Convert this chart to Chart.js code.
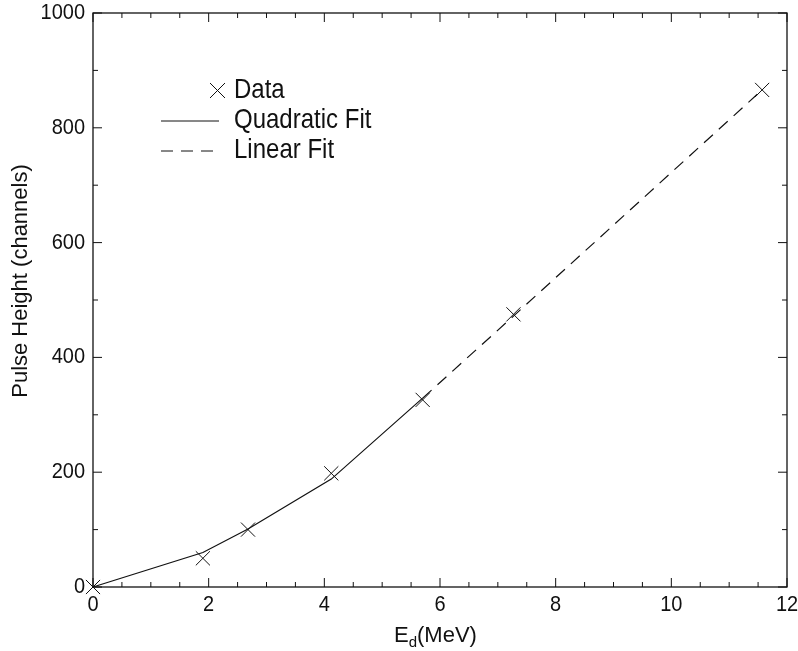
<!DOCTYPE html>
<html>
<head>
<meta charset="utf-8">
<script src="https://cdn.jsdelivr.net/npm/chart.js@4"></script>
<style>
    html, body { margin: 0; padding: 0; background: #fff; }
    #wrap { width: 798px; height: 651px; }
</style>
</head>
<body>
<div id="wrap"><canvas id="chart" width="798" height="651"></canvas></div>
<script>
// values
const dataX = [0, 1.9, 2.68, 4.12, 5.7, 7.27, 11.57];
const dataY = [0, 50, 100, 198, 326, 475, 866];
const quadX = [0, 1.9, 2.68, 4.12, 5.7];
const quadY = [0, 60, 101, 188, 329];
const linX = [5.7, 7.27, 11.57];
const linY = [329, 472, 866];
const xTicks = [0, 2, 4, 6, 8, 10, 12];
const yTicks = [0, 200, 400, 600, 800, 1000];

const FONT = "'Liberation Sans', Arial, sans-serif";
const INK = "#111";

function pairs(xs, ys) {
    return xs.map((x, i) => ({ x: x, y: ys[i] }));
}

// text slightly taller than wide, like the original
function tallText(ctx, txt, x, y, sy) {
    ctx.save();
    ctx.translate(x, y);
    ctx.scale(1, sy);
    ctx.fillText(txt, 0, 0);
    ctx.restore();
}

// box, inward ticks on all four sides, tick labels, axis titles, legend
const framePlugin = {
    id: "frame",
    afterDraw(chart) {
        const ctx = chart.ctx;
        const a = chart.chartArea;
        const xs = chart.scales.x;
        const ys = chart.scales.y;
        ctx.save();
        ctx.strokeStyle = INK;
        ctx.lineWidth = 1.3;
        ctx.strokeRect(a.left, a.top, a.right - a.left, a.bottom - a.top);

        ctx.lineWidth = 1;
        ctx.beginPath();
        for (let v = xs.min; v <= xs.max + 1e-9; v += 0.5) {
            const px = xs.getPixelForValue(v);
            const len = Math.abs(v % 2) < 1e-9 ? 9 : 5;
            ctx.moveTo(px, a.bottom); ctx.lineTo(px, a.bottom - len);
            ctx.moveTo(px, a.top); ctx.lineTo(px, a.top + len);
        }
        for (let v = ys.min; v <= ys.max + 1e-9; v += 100) {
            const py = ys.getPixelForValue(v);
            const len = Math.abs(v % 200) < 1e-9 ? 9 : 5;
            ctx.moveTo(a.left, py); ctx.lineTo(a.left + len, py);
            ctx.moveTo(a.right, py); ctx.lineTo(a.right - len, py);
        }
        ctx.stroke();

        // tick labels
        ctx.fillStyle = INK;
        ctx.font = "20px " + FONT;
        ctx.textBaseline = "middle";
        ctx.textAlign = "center";
        xTicks.forEach((v) => tallText(ctx, String(v), xs.getPixelForValue(v), a.bottom + 18, 1.08));
        ctx.textAlign = "right";
        yTicks.forEach((v) => tallText(ctx, String(v), a.left - 8, ys.getPixelForValue(v), 1.08));

        // y title
        ctx.font = "22px " + FONT;
        ctx.textAlign = "center";
        ctx.save();
        ctx.translate(21, 281);
        ctx.rotate(-Math.PI / 2);
        ctx.fillText("Pulse Height (channels)", 0, 0);
        ctx.restore();

        // x title with subscript
        ctx.textAlign = "left";
        ctx.textBaseline = "alphabetic";
        let tx = 394;
        const base = 642;
        ctx.fillText("E", tx, base);
        tx += ctx.measureText("E").width;
        ctx.font = "15px " + FONT;
        ctx.fillText("d", tx, base + 5);
        tx += ctx.measureText("d").width;
        ctx.font = "22px " + FONT;
        ctx.fillText("(MeV)", tx, base);

        // legend
        ctx.font = "24px " + FONT;
        ctx.textBaseline = "middle";
        const lx = 234;
        ctx.beginPath();
        ctx.moveTo(210, 83); ctx.lineTo(225, 98);
        ctx.moveTo(225, 83); ctx.lineTo(210, 98);
        ctx.stroke();
        tallText(ctx, "Data", lx, 91, 1.12);
        ctx.beginPath();
        ctx.moveTo(161, 121); ctx.lineTo(219, 121);
        ctx.stroke();
        tallText(ctx, "Quadratic Fit", lx, 121, 1.12);
        ctx.setLineDash([12, 8]);
        ctx.beginPath();
        ctx.moveTo(161, 151); ctx.lineTo(216, 151);
        ctx.stroke();
        ctx.setLineDash([]);
        tallText(ctx, "Linear Fit", lx, 151, 1.12);
        ctx.restore();
    }
};

new Chart(document.getElementById("chart"), {
    type: "scatter",
    data: {
        datasets: [
            {
                label: "Quadratic Fit",
                data: pairs(quadX, quadY),
                showLine: true,
                borderColor: INK,
                borderWidth: 1.2,
                pointRadius: 0,
                clip: false,
            },
            {
                label: "Linear Fit",
                data: pairs(linX, linY),
                showLine: true,
                borderColor: INK,
                borderWidth: 1.2,
                borderDash: [12, 8],
                pointRadius: 0,
                clip: false,
            },
            {
                label: "Data",
                data: pairs(dataX, dataY),
                pointStyle: "crossRot",
                pointRadius: 10,
                borderColor: INK,
                borderWidth: 1,
                backgroundColor: INK,
                clip: false,
            },
        ],
    },
    options: {
        responsive: false,
        animation: false,
        layout: { padding: { top: 13, right: 11, left: 0, bottom: 0 } },
        plugins: { legend: { display: false }, tooltip: { enabled: false } },
        scales: {
            x: {
                type: "linear",
                min: 0,
                max: 12,
                afterFit: (s) => { s.height = 64; },
                grid: { display: false, drawTicks: false },
                border: { display: false },
                ticks: { display: false },
            },
            y: {
                type: "linear",
                min: 0,
                max: 1000,
                afterFit: (s) => { s.width = 93; },
                grid: { display: false, drawTicks: false },
                border: { display: false },
                ticks: { display: false },
            },
        },
    },
    plugins: [framePlugin],
});
</script>
</body>
</html>
